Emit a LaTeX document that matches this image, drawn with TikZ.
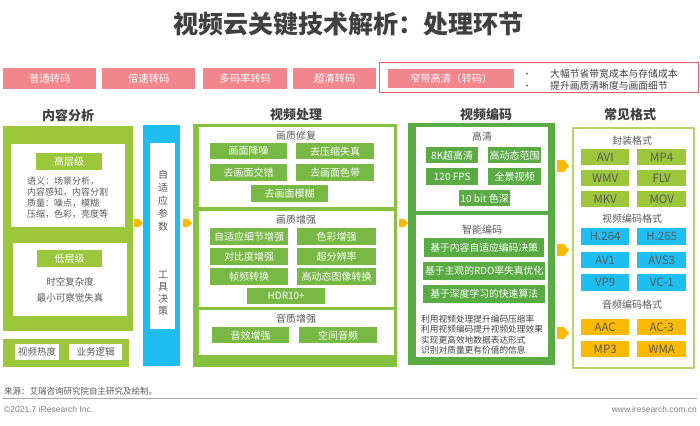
\documentclass[tikz,border=0pt]{standalone}
\usepackage{fontspec}
\setmainfont{Noto Sans CJK SC}
\newfontfamily\arialf{Liberation Sans}
\definecolor{cpink}{HTML}{F1868C}
\definecolor{cred}{HTML}{E45A66}
\definecolor{lgreen}{HTML}{9CC63B}
\definecolor{pgreen}{HTML}{86C240}
\definecolor{pbtn}{HTML}{78B945}
\definecolor{egreen}{HTML}{5BAB45}
\definecolor{cblue}{HTML}{1EBFF0}
\definecolor{corange}{HTML}{FBBA00}
\definecolor{fborder}{HTML}{B3D466}
\definecolor{ctitle}{HTML}{404040}
\definecolor{ctext}{HTML}{595959}
\newcommand\bx[7]{\node[#6, anchor=north west, inner sep=0pt, minimum width={(#4-#2)*1pt}, minimum height={(#5-#3)*1pt}] (#1) at (#2,#3) {#7};}
\newcommand\yarr[4]{\fill[corange] (#1,#2-#4*0.42) -- (#1+#3*0.5,#2-#4*0.42) -- (#1+#3*0.5,#2-#4*0.5) -- (#1+#3,#2) -- (#1+#3*0.5,#2+#4*0.5) -- (#1+#3*0.5,#2+#4*0.42) -- (#1,#2+#4*0.42) -- cycle;}
\tikzset{
  pinkbox/.style={fill=cpink, text=white, font=\fontsize{10.3}{10}\selectfont},
  whitebox/.style={fill=white},
  lbtn/.style={fill=lgreen, text=white, font=\fontsize{10}{10}\selectfont},
  pbtnbox/.style={fill=pbtn, text=white, font=\fontsize{10}{10}\selectfont},
  ebtn/.style={fill=egreen, text=white, font=\fontsize{10}{10}\selectfont},
  ebtnw/.style={fill=egreen, text=white, font=\fontsize{9.8}{10}\selectfont},
  fgbtn/.style={fill=lgreen, text=ctext, font=\fontsize{11.5}{11.5}\selectfont},
  fbbtn/.style={fill=cblue, text=ctext, font=\fontsize{11.5}{11.5}\selectfont},
  fobtn/.style={fill=corange, text=ctext, font=\fontsize{11.5}{11.5}\selectfont},
  head/.style={font=\fontsize{13}{13}\selectfont\bfseries, text=ctitle},
  sub/.style={font=\fontsize{10}{10}\selectfont, text=ctext},
  body/.style={font=\fontsize{9}{11}\selectfont, text=ctext},
}
\begin{document}
\begin{tikzpicture}[x=1pt,y=-1pt]
\useasboundingbox (0,0) rectangle (700,425);
\fill[white] (0,0) rectangle (700,425);
% title
\node[font=\fontsize{25}{25}\selectfont\bfseries, text=ctitle] (title) at (348,24) {视频云关键技术解析：处理环节};
% pink row
\bx{p1}{3}{68}{96}{89}{pinkbox}{普通转码}
\bx{p2}{102}{68}{195}{89}{pinkbox}{倍速转码}
\bx{p3}{203}{68}{287}{89}{pinkbox}{多码率转码}
\bx{p4}{293}{68}{376}{89}{pinkbox}{超清转码}
\bx{pframe}{379}{62}{698}{92}{draw=cred, line width=1pt}{}
\bx{p5}{388}{69}{514}{88}{pinkbox}{窄带高清（转码）}
\node[text=ctext, font=\fontsize{9}{9}\selectfont] (bul1) at (527,75) {•};
\node[text=ctext, font=\fontsize{9}{9}\selectfont] (bul2) at (527,87) {•};
\node[anchor=west, inner sep=0pt, font=\fontsize{9.8}{10}\selectfont, text=ctitle] (pt1) at (550,74) {大幅节省带宽成本与存储成本};
\node[anchor=west, inner sep=0pt, font=\fontsize{9.8}{10}\selectfont, text=ctitle] (pt2) at (550,86) {提升画质清晰度与画面细节};
% headers
\node[head] (h1) at (68,115) {内容分析};
\node[head] (h2) at (296,115) {视频处理};
\node[head] (h3) at (486,115) {视频编码};
\node[head] (h4) at (630,115) {常见格式};
% left column
\bx{lbox}{3}{126}{133}{331}{fill=lgreen}{}
\bx{lw1}{11}{144}{125}{227}{whitebox}{}
\bx{lt1}{36}{153}{102}{170}{lbtn}{高层级}
\node[body, anchor=west, align=left, inner sep=0pt] (ltx1) at (27,198) {语义：场景分析，\\内容感知，内容分割\\质量：噪点，模糊\\压缩，色彩，亮度等};
\bx{lw2}{13}{243}{127}{316}{whitebox}{}
\bx{lt2}{37}{250}{102}{267}{lbtn}{低层级}
\node[body, align=center, inner sep=0pt, font=\fontsize{9.5}{16}\selectfont] (ltx2) at (70,290) {时空复杂度\\最小可察觉失真};
\bx{lbot}{3}{339}{129}{367}{fill=lgreen}{}
\bx{lb1}{15}{344}{59}{360}{whitebox, body, font=\fontsize{9.5}{10}\selectfont}{视频热度}
\bx{lb2}{69}{344}{122}{360}{whitebox, body, font=\fontsize{9.5}{10}\selectfont}{业务逻辑}
% blue column
\bx{bcol}{143}{125}{180}{366}{fill=cblue}{}
\bx{bw}{150}{143}{175}{329}{whitebox}{}
\node[sub, align=center, inner sep=0pt, font=\fontsize{10}{13}\selectfont] (bt1) at (163,201) {自\\适\\应\\参\\数};
\node[sub, align=center, inner sep=0pt, font=\fontsize{10}{12}\selectfont] (bt2) at (163,293) {工\\具\\决\\策};
% arrows
\yarr{134}{223}{9}{9}
\yarr{183}{223}{9}{9}
\yarr{399}{223}{9}{9}
\yarr{557}{166}{12}{14}
\yarr{557}{250}{12}{14}
\yarr{557}{333}{12}{14}
% processing
\bx{pbox}{193}{124}{397}{367}{fill=pgreen}{}
\bx{pw1}{199}{127}{394}{207}{whitebox}{}
\node[sub] (pq1) at (296,136) {画质修复};
\bx{pa1}{210}{143}{287}{159}{pbtnbox}{画面降噪}
\bx{pa2}{296}{143}{374}{159}{pbtnbox}{去压缩失真}
\bx{pa3}{210}{164}{287}{181}{pbtnbox}{去画面交错}
\bx{pa4}{296}{164}{374}{181}{pbtnbox}{去画面色带}
\bx{pa5}{251}{185}{328}{202}{pbtnbox}{去画面模糊}
\bx{pw2}{199}{211}{394}{307}{whitebox}{}
\node[sub] (pq2) at (296,220) {画质增强};
\bx{pb1}{210}{228}{288}{245}{pbtnbox}{自适应细节增强}
\bx{pb2}{297}{228}{376}{245}{pbtnbox}{色彩增强}
\bx{pb3}{210}{248}{288}{265}{pbtnbox}{对比度增强}
\bx{pb4}{297}{248}{376}{265}{pbtnbox}{超分辨率}
\bx{pb5}{210}{268}{288}{285}{pbtnbox}{帧频转换}
\bx{pb6}{297}{268}{376}{285}{pbtnbox}{高动态图像转换}
\bx{pb7}{247}{288}{325}{304}{pbtnbox}{HDR10+}
\bx{pw3}{199}{310}{394}{355}{whitebox}{}
\node[sub] (pq3) at (296,319) {音质增强};
\bx{pc1}{212}{327}{289}{343}{pbtnbox}{音效增强}
\bx{pc2}{299}{327}{377}{343}{pbtnbox}{空间音频}
% encoding
\bx{ebox}{408}{123}{555}{365}{fill=egreen}{}
\bx{ew1}{416}{127}{548}{211}{whitebox}{}
\node[sub] (eq1) at (482,137) {高清};
\bx{ea1}{426}{147}{478}{163}{ebtn}{8K超高清}
\bx{ea2}{488}{147}{541}{163}{ebtn}{高动态范围}
\bx{ea3}{426}{168}{478}{185}{ebtn}{120 FPS}
\bx{ea4}{488}{168}{541}{185}{ebtn}{全景视频}
\bx{ea5}{459}{190}{510}{206}{ebtn}{10 bit 色深}
\bx{ew2}{416}{215}{548}{357}{whitebox}{}
\node[sub] (eq2) at (482,230) {智能编码};
\bx{eb1}{424}{238}{544}{257}{ebtnw}{基于内容自适应编码决策}
\bx{eb2}{423}{262}{545}{280}{ebtnw}{基于主观的RDO率失真优化}
\bx{eb3}{423}{285}{545}{303}{ebtnw}{基于深度学习的快速算法}
\node[anchor=west, align=left, inner sep=0pt, text=ctitle, font=\fontsize{8.7}{10.4}\selectfont] (etx) at (421,334.5) {利用视频处理提升编码压缩率\\利用视频编码提升视频处理效果\\实现更高效地数据表达形式\\识别对质量更有价值的信息};
% formats
\bx{fbox}{572}{127}{693}{367}{draw=fborder, line width=2pt, fill=white}{}
\node[sub] (fq1) at (632,141) {封装格式};
\bx{fa1}{581}{149}{629}{165}{fgbtn}{AVI}
\bx{fa2}{637}{149}{686}{165}{fgbtn}{MP4}
\bx{fa3}{581}{170}{629}{186}{fgbtn}{WMV}
\bx{fa4}{637}{170}{686}{186}{fgbtn}{FLV}
\bx{fa5}{581}{191}{629}{207}{fgbtn}{MKV}
\bx{fa6}{637}{191}{686}{207}{fgbtn}{MOV}
\node[sub] (fq2) at (632,219) {视频编码格式};
\bx{fb1}{581}{228}{629}{245}{fbbtn}{H.264}
\bx{fb2}{637}{228}{686}{245}{fbbtn}{H.265}
\bx{fb3}{581}{252}{629}{268}{fbbtn}{AV1}
\bx{fb4}{637}{252}{686}{268}{fbbtn}{AVS3}
\bx{fb5}{581}{274}{629}{291}{fbbtn}{VP9}
\bx{fb6}{637}{274}{686}{291}{fbbtn}{VC-1}
\node[sub] (fq3) at (632,305) {音频编码格式};
\bx{fc1}{581}{319}{629}{335}{fobtn}{AAC}
\bx{fc2}{637}{319}{686}{335}{fobtn}{AC-3}
\bx{fc3}{581}{341}{629}{357}{fobtn}{MP3}
\bx{fc4}{637}{341}{686}{357}{fobtn}{WMA}
% footer
\node[anchor=west, inner sep=0pt, text=ctext, font=\fontsize{8.5}{8.5}\selectfont] (src) at (4,391) {来源：艾瑞咨询研究院自主研究及绘制。};
\coordinate (fl1) at (3,398);
\coordinate (fl2) at (697,398);
\draw[gray!70, line width=1pt] (fl1) -- (fl2);
\node[anchor=west, inner sep=0pt, text=gray, font=\arialf\fontsize{8.5}{8.5}\selectfont] (copy) at (4,409) {©2021.7 iResearch Inc.};
\node[anchor=east, inner sep=0pt, text=gray, font=\arialf\fontsize{8.5}{8.5}\selectfont] (url) at (697,409) {www.iresearch.com.cn};
\end{tikzpicture}
\end{document}
